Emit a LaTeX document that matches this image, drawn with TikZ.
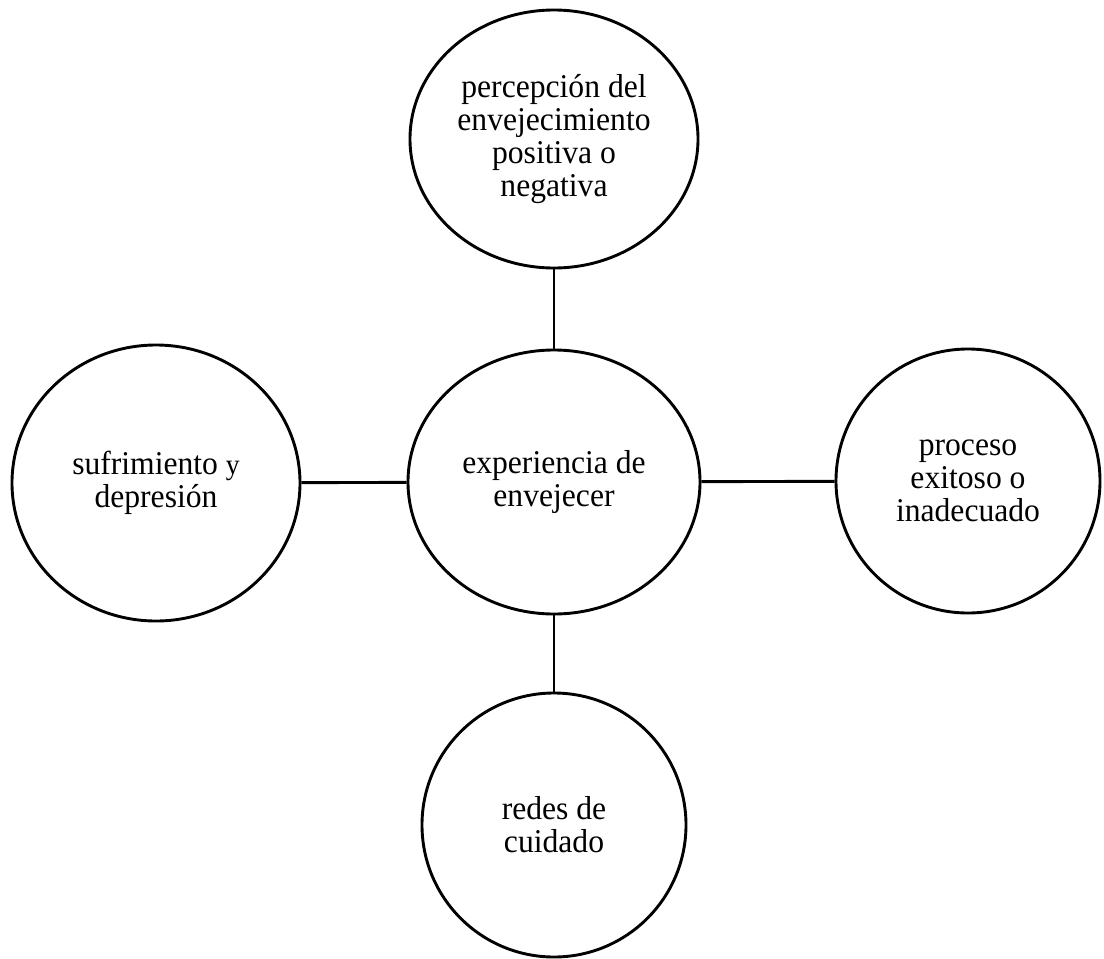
\documentclass[tikz,border=0pt]{standalone}
\usepackage{fontspec}
\setmainfont{Liberation Serif}
\newfontfamily\bubblefont[FakeStretch=0.952]{Liberation Serif}
\usetikzlibrary{shapes.geometric}
\usetikzlibrary{positioning}

\tikzset{
  bubble/.style={ellipse, draw, line width=1.65pt, inner sep=0pt, align=center,
    font=\bubblefont\fontsize{18.9}{18.8}\selectfont},
  link/.style={line width=1.65pt}
}

\begin{document}
\begin{tikzpicture}
      \useasboundingbox (0, 0) rectangle (22.08, -19.16);
      \node[bubble, minimum width=5.76cm, minimum height=5.16cm] (perc) at (11.08, -2.78) {percepción del\\envejecimiento\\positiva o\\negativa};
      \node[bubble, minimum width=5.76cm, minimum height=5.52cm] (sufr) at (3.12, -9.66) {sufrimiento {\fontsize{16.5}{18.8}\selectfont y}\\depresión};
      \node[bubble, minimum width=5.84cm, minimum height=5.28cm] (expe) at (11.08, -9.64) {experiencia de\\envejecer};
      \node[bubble, minimum width=5.28cm, minimum height=5.28cm] (proc) at (19.36, -9.62) {proceso\\exitoso o\\inadecuado};
      \node[bubble, minimum width=5.28cm, minimum height=5.28cm] (rede) at (11.08, -16.5) {redes de\\cuidado};

      \path [link]
      (perc) edge (expe)
      (sufr) edge (expe)
      (expe) edge (proc)
      (expe) edge (rede);
\end{tikzpicture}
\end{document}
